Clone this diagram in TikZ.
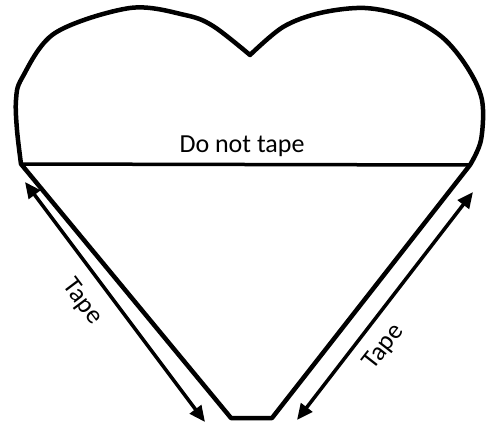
\documentclass[tikz,border=0pt]{standalone}
\usepackage{fontspec}
\setmainfont{Carlito}
\usetikzlibrary{arrows.meta}

\begin{document}
\begin{tikzpicture}[
    x=1pt, y=-1pt,
    outline/.style={draw, line width=4.5pt, line join=round},
    fold/.style={line width=3.5pt},
    tapearrow/.style={{Triangle[length=16pt,width=14pt]}-{Triangle[length=16pt,width=14pt]}, line width=3.5pt},
    lbl/.style={font=\fontsize{26}{28}\selectfont, inner sep=0pt}
  ]
    \useasboundingbox (0,0) rectangle (489,428);
    % corners of the cut-out
    \coordinate (lb) at (21,164);
    \coordinate (rb) at (470,165);
    \coordinate (dip) at (250,55);
    \coordinate (bl) at (231,418);
    \coordinate (br) at (272,418);
    % heart outline
    \draw[outline] plot[smooth, tension=0.55] coordinates {(21,164) (17,130) (16,100) (22,78) (55,33) (130,8) (185,15) (213,26) (250,55)}
      -- plot[smooth, tension=0.55] coordinates {(250,55) (283,27) (320,13) (365,8) (407,17) (442,37) (467,67) (482,100) (481,140) (470,165)}
      -- (br) -- (bl) -- cycle;
    \draw[fold] (lb) -- (rb);
    % tape arrows
    \coordinate (la1) at (25,182);
    \coordinate (la2) at (205,422);
    \coordinate (ra1) at (297,420);
    \coordinate (ra2) at (473,192);
    \draw[tapearrow] (la1) -- (la2);
    \draw[tapearrow] (ra1) -- (ra2);
    % labels
    \node[lbl] (dnt) at (242,146) {Do not tape};
    \node[lbl, rotate=-53] (tapeL) at (82,302) {Tape};
    \node[lbl, rotate=52] (tapeR) at (384,347) {Tape};
\end{tikzpicture}
\end{document}
